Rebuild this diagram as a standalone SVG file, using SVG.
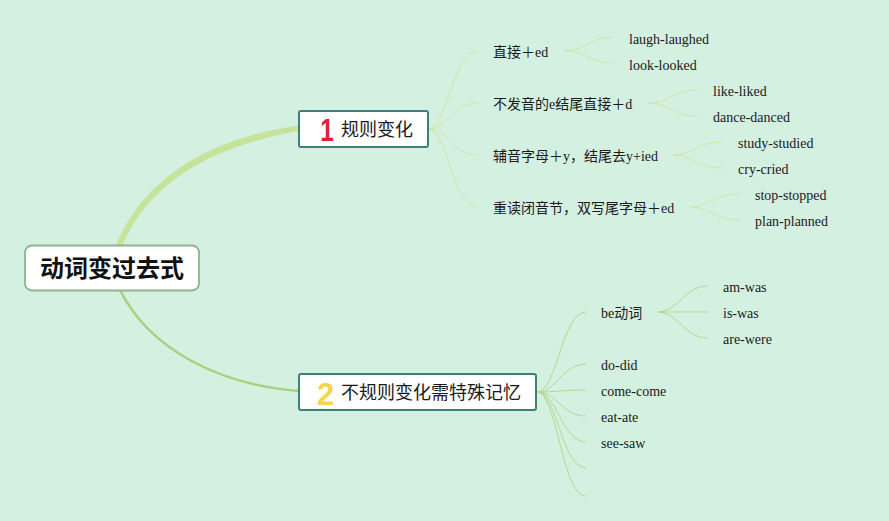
<svg xmlns="http://www.w3.org/2000/svg" width="889" height="521" viewBox="0 0 889 521">
<style>
.bg{fill:#d4f0e1}
.t{font-family:"Liberation Serif","Noto Sans CJK SC",serif;font-size:14px;fill:#1a1a1a}
.mt{font-family:"Noto Sans CJK SC","Noto Sans",sans-serif;font-size:18px;fill:#1a1a1a}
.rt{font-family:"Noto Sans CJK SC","Noto Sans",sans-serif;font-size:24px;font-weight:bold;fill:#111}
.num{font-family:"Liberation Sans","Noto Sans",sans-serif;font-size:31px;font-weight:bold;text-anchor:middle}
.b1{fill:none;stroke:#cfe7a6;stroke-width:1}
.b2{fill:none;stroke:#b5d78e;stroke-width:1}
.mbox{fill:#fff;stroke:#3d807c;stroke-width:2}
</style>
<rect class="bg" x="0" y="0" width="889" height="521"/>
<g id="connectors">
<path d="M115.5,246 C147,168 226,135 299,125.5 L299,131 C229,143 153,172 121.5,247 Z" fill="#c6e39c"/>
<path d="M120,290 C150,350 220,385 299,391" fill="none" stroke="#a9d07f" stroke-width="2.5"/>
<path class="b1" d="M428,129 C448,129 452,51 478,51"/>
<path class="b1" d="M428,129 C448,129 452,103 478,103"/>
<path class="b1" d="M428,129 C448,129 452,155 478,155"/>
<path class="b1" d="M428,129 C448,129 452,207 478,207"/>
<path class="b1" d="M565,51 C585,51 590,37 613,37"/>
<path class="b1" d="M565,51 C585,51 590,63 613,63"/>
<path class="b1" d="M649,103 C669,103 674,90 697,90"/>
<path class="b1" d="M649,103 C669,103 674,116 697,116"/>
<path class="b1" d="M673,155 C693,155 698,142 722,142"/>
<path class="b1" d="M673,155 C693,155 698,168 722,168"/>
<path class="b1" d="M690,207 C710,207 715,194 740,194"/>
<path class="b1" d="M690,207 C710,207 715,220 740,220"/>
<path class="b2" d="M537,392 C557,392 562,312 586,312"/>
<path class="b2" d="M537,392 C557,392 562,364 586,364"/>
<path class="b2" d="M537,392 C557,392 562,390 586,390"/>
<path class="b2" d="M537,392 C557,392 562,416 586,416"/>
<path class="b2" d="M537,392 C557,392 562,442 586,442"/>
<path class="b2" d="M537,392 C557,392 562,468 586,468"/>
<path class="b2" d="M537,392 C557,392 562,496 586,496"/>
<path class="b2" d="M658,312 C678,312 684,286 708,286"/>
<path class="b2" d="M658,312 L708,312"/>
<path class="b2" d="M658,312 C678,312 684,338 708,338"/>
</g>
<g id="root">
<rect x="25" y="245.5" width="174" height="45" rx="7" fill="#fff" stroke="#8fb38b" stroke-width="1.8"/>
<text class="rt" x="112" y="277" text-anchor="middle">动词变过去式</text>
</g>
<g id="node1">
<rect class="mbox" x="299" y="111" width="129" height="36" rx="2"/>
<text class="num" transform="translate(327,140.5) scale(0.78,1)" x="0" y="0" fill="#e0203a">1</text>
<text class="mt" x="341" y="135.5">规则变化</text>
</g>
<g id="node2">
<rect class="mbox" x="299" y="374" width="237" height="36" rx="2"/>
<text class="num" x="325.5" y="404.5" fill="#f5d54a">2</text>
<text class="mt" x="341" y="398.5">不规则变化需特殊记忆</text>
</g>
<g id="n1-children">
<text class="t" x="493" y="57">直接＋ed</text>
<text class="t" x="493" y="109">不发音的e结尾直接＋d</text>
<text class="t" x="493" y="161">辅音字母＋y，结尾去y+ied</text>
<text class="t" x="493" y="213">重读闭音节，双写尾字母＋ed</text>
</g>
<g id="n1-leaves">
<text class="t" x="629" y="44">laugh-laughed</text>
<text class="t" x="629" y="70">look-looked</text>
<text class="t" x="713" y="96">like-liked</text>
<text class="t" x="713" y="122">dance-danced</text>
<text class="t" x="738" y="148">study-studied</text>
<text class="t" x="738" y="174">cry-cried</text>
<text class="t" x="755" y="200">stop-stopped</text>
<text class="t" x="755" y="226">plan-planned</text>
</g>
<g id="n2-children">
<text class="t" x="601" y="318">be动词</text>
<text class="t" x="601" y="370">do-did</text>
<text class="t" x="601" y="396">come-come</text>
<text class="t" x="601" y="422">eat-ate</text>
<text class="t" x="601" y="448">see-saw</text>
</g>
<g id="n2-leaves">
<text class="t" x="723" y="292">am-was</text>
<text class="t" x="723" y="318">is-was</text>
<text class="t" x="723" y="344">are-were</text>
</g>
</svg>
